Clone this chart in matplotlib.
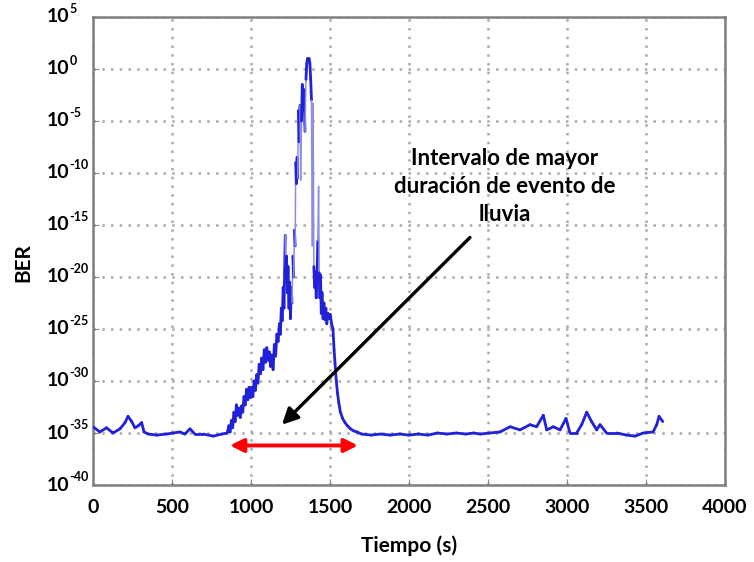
import matplotlib
matplotlib.use("Agg")
import matplotlib.pyplot as plt
import matplotlib.transforms as mtransforms
from matplotlib.collections import LineCollection
import numpy as np

plt.rcParams['font.family'] = ['Lato', 'DejaVu Sans']

# time (s) and log10(BER)
tiempo = [
    0, 44, 86, 127, 171, 203, 222, 245, 266, 287, 308, 323, 350, 403, 466, 507,
    550, 582, 614, 645, 698, 762, 815, 850,
    860, 868, 876, 884, 892, 900, 908, 916, 924, 932, 940, 948, 956, 964, 972,
    980, 988, 996, 1004, 1012, 1020, 1028, 1036, 1044, 1052, 1060, 1068, 1076,
    1084, 1092, 1100, 1108, 1116, 1124, 1132, 1140, 1148, 1156, 1164, 1172,
    1180, 1186, 1192, 1198, 1204, 1209, 1213, 1217, 1221, 1225, 1230, 1235,
    1240, 1245, 1250, 1255, 1260, 1265, 1270, 1275, 1280, 1283, 1288, 1292,
    1296, 1300, 1305, 1310, 1315, 1320, 1325, 1330, 1336, 1342, 1348, 1353,
    1358, 1363, 1368, 1373, 1378, 1383, 1388, 1393, 1398, 1403, 1408, 1413,
    1418, 1423, 1428, 1432, 1436, 1440, 1445, 1450, 1456, 1462, 1468, 1474,
    1480, 1487, 1494, 1502, 1510, 1519, 1526, 1532, 1540, 1548, 1556, 1566,
    1580, 1595, 1610, 1630, 1650, 1671, 1700,
    1760, 1820, 1880, 1940, 2000, 2060, 2120, 2180, 2240, 2300, 2360,
    2410, 2450, 2513, 2576, 2640, 2703, 2766, 2808, 2850, 2872, 2914, 2956,
    2994, 3019, 3061, 3093, 3125, 3156, 3188, 3209, 3251, 3314, 3378, 3431,
    3482, 3545, 3568, 3583, 3606,
]
log_ber = [
    -34.4, -34.9, -34.5, -35.0, -34.6, -34.0, -33.4, -33.9, -34.5, -34.3, -34.0,
    -34.9, -35.1, -35.2, -35.1, -35.0, -34.9, -35.1, -34.6, -35.1, -35.1, -35.3,
    -35.1, -35.0,
    -34.3, -34.9, -33.8, -34.5, -33.0, -33.9, -32.3, -33.3, -32.6, -33.5, -32.4,
    -33.0, -31.5, -32.3, -30.8, -31.8, -30.6, -31.6, -30.6, -31.5, -30.0, -30.9,
    -29.4, -30.2, -28.4, -29.3, -27.8, -28.9, -27.0, -28.2, -26.8, -28.0, -27.2,
    -28.6, -27.5, -28.9, -26.5, -27.6, -25.5, -26.2, -24.5, -25.5, -23.0, -24.2,
    -21.0, -23.0, -19.5, -16.0, -20.5, -18.0, -21.5, -19.0, -23.0, -20.5, -24.0,
    -21.0, -22.5, -18.0, -20.0, -15.5, -17.0, -9.0, -11.0, -8.5, -10.5, -4.0,
    -7.0, -3.5, -10.7, -5.0, -1.5, -4.0, -2.0, -6.0, -1.0, 0.5, 1.0, 0.8, 1.0,
    0.5, -1.0, -3.0, -17.0, -3.3, -19.0, -21.0, -19.5, -22.0, -20.0, -16.5,
    -11.3, -19.6, -22.0, -19.8, -23.5, -21.5, -24.0, -22.5, -24.1, -23.0, -24.5,
    -23.5, -24.0, -23.6, -24.5, -25.0, -27.0, -28.3, -30.0, -31.2, -32.1, -33.0,
    -33.6, -34.0, -34.3, -34.6, -34.8, -34.9, -35.1,
    -35.2, -35.1, -35.2, -35.1, -35.2, -35.1, -35.2, -35.0, -35.1, -35.0, -35.1,
    -35.0, -35.1, -35.0, -34.9, -34.4, -34.7, -34.2, -34.4, -33.3, -34.7, -34.4,
    -34.7, -33.6, -35.0, -35.0, -34.2, -33.0, -33.9, -34.7, -34.2, -35.0, -35.0,
    -35.2, -35.3, -35.0, -34.9, -34.2, -33.4, -33.9,
]

x_ticks = [0, 500, 1000, 1500, 2000, 2500, 3000, 3500, 4000]
y_exps = [5, 0, -5, -10, -15, -20, -25, -30, -35, -40]

nota = "Intervalo de mayor\nduración de evento de\nlluvia"
nota_pos = (2608, 10 ** -11.3)
flecha_punta = (1196, 10 ** -34.2)
flecha_cola = (2386, 10 ** -16.2)
intervalo = (867, 1677)
intervalo_y = 10 ** -36.2

fig = plt.figure(figsize=(7.54, 5.62), dpi=100)
ax = fig.add_axes([0.1233, 0.137, 0.8382, 0.8328])

# big jumps show as thin pale strokes, dense noise as thick dark strokes
pts = np.column_stack([tiempo, 10.0 ** np.array(log_ber)])
segs = np.stack([pts[:-1], pts[1:]], axis=1)
salto = np.abs(np.diff(log_ber)) > 4
colores = np.where(salto[:, None], [[0.55, 0.55, 0.9, 1]], [[0.13, 0.13, 0.85, 1]])
anchos = np.where(salto, 1.1, 2.0)
ax.add_collection(LineCollection(segs, colors=colores, linewidths=anchos,
                                 capstyle='round', joinstyle='round', zorder=3))

ax.set_yscale('log')
ax.set_xlim(0, 4000)
ax.set_ylim(1e-40, 1e5)
ax.set_xticks(x_ticks)
ax.set_xticklabels([str(v) for v in x_ticks], fontsize=14, fontweight='bold')
ax.set_yticks([10.0 ** e for e in y_exps])
ax.set_yticklabels([])
ax.minorticks_off()
ax.tick_params(direction='in', length=4, color='#888888')
ax.tick_params(axis='x', pad=10)

# 10 with small raised exponent, like the original labels
ytr = ax.get_yaxis_transform()
sup = mtransforms.offset_copy(ytr, fig=fig, x=0, y=2, units='dots')
for e in y_exps:
    ax.text(-0.037, 10.0 ** e, '10', transform=ytr, ha='right', va='center',
            fontsize=14, fontweight='bold', clip_on=False)
    ax.text(-0.037, 10.0 ** e, str(e), transform=sup, ha='left', va='bottom',
            fontsize=9, fontweight='bold', clip_on=False)

ax.grid(True, color='#aaaaaa', linestyle=(0, (1, 2.5)), lw=1.8)
for s in ax.spines.values():
    s.set_color('#808080')
    s.set_linewidth(1.8)

ax.set_xlabel('Tiempo (s)', fontsize=15, fontweight='bold', labelpad=14)
ax.set_ylabel('BER', fontsize=15, fontweight='bold')
ax.yaxis.set_label_coords(-0.095, 0.475)

ax.text(nota_pos[0], nota_pos[1], nota, ha='center', va='center', fontsize=16,
        fontweight='bold', linespacing=1.4, zorder=5)
ax.annotate('', xy=flecha_punta, xytext=flecha_cola,
            arrowprops=dict(arrowstyle='-|>', color='black', lw=2.4,
                            mutation_scale=24, shrinkA=0, shrinkB=0), zorder=5)
ax.annotate('', xy=(intervalo[0], intervalo_y), xytext=(intervalo[1], intervalo_y),
            arrowprops=dict(arrowstyle='<|-|>', color='#ff0000', lw=2.8,
                            mutation_scale=20, shrinkA=0, shrinkB=0), zorder=5)

fig.savefig('out.png', dpi=100)
